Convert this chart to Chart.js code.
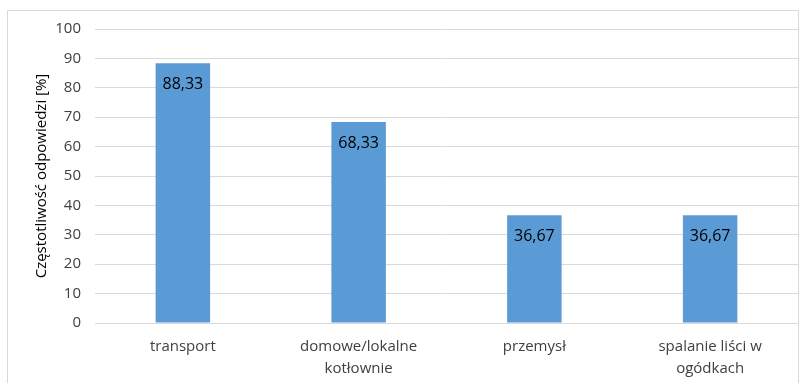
<!DOCTYPE html>
<html>
<head>
<meta charset="utf-8">
<script src="https://cdn.jsdelivr.net/npm/chart.js@4"></script>
<style>
  body { margin: 0; background: #fff; }
  #wrap { position: relative; width: 808px; height: 383px; }
  #frame { position: absolute; left: 7px; top: 10px; width: 792px; height: 380px; border: 1px solid #d9d9d9; box-sizing: border-box; }
  canvas { position: absolute; left: 0; top: 0; }
</style>
</head>
<body>
<div id="wrap">
  <div id="frame"></div>
  <canvas id="chart" width="808" height="383"></canvas>
</div>
<script>
// Dane wykresu
const categories = ["transport", ["domowe/lokalne", "kotłownie"], "przemysł", ["spalanie liści w", "ogódkach"]];
const values = [88.33, 68.33, 36.67, 36.67];
const yTicks = [0, 10, 20, 30, 40, 50, 60, 70, 80, 90, 100];
const yTitle = "Częstotliwość odpowiedzi [%]";

const fontFamily = "'Open Sans', sans-serif";

// Etykiety wartości wewnątrz słupków
const valueLabels = {
  id: "valueLabels",
  afterDatasetsDraw(chart) {
    const ctx = chart.ctx;
    const meta = chart.getDatasetMeta(0);
    ctx.save();
    ctx.font = "16px " + fontFamily;
    ctx.fillStyle = "#000";
    ctx.textAlign = "center";
    ctx.textBaseline = "middle";
    meta.data.forEach((bar, i) => {
      ctx.fillText(values[i].toFixed(2).replace(".", ","), bar.x, bar.y + 21);
    });
    ctx.restore();
  },
};

const ctx = document.getElementById("chart").getContext("2d");
const chart = new Chart(ctx, {
  type: "bar",
  data: {
    labels: categories,
    datasets: [
      {
        data: values,
        backgroundColor: "#5b9bd5",
        borderWidth: 0,
        barPercentage: 0.62,
        categoryPercentage: 0.5,
      },
    ],
  },
  options: {
    responsive: false,
    animation: false,
    layout: { padding: { top: 29, right: 10, left: 33, bottom: 0 } },
    plugins: {
      legend: { display: false },
      tooltip: { enabled: false },
    },
    scales: {
      x: {
        grid: { display: false },
        border: { display: false },
        ticks: { color: "#404040", font: { size: 15, family: fontFamily, lineHeight: 1.5 }, padding: 4, maxRotation: 0, autoSkip: false },
        afterFit: (scale) => { scale.height = 60; },
      },
      y: {
        min: 0,
        max: 100,
        afterBuildTicks: (scale) => { scale.ticks = yTicks.map((v) => ({ value: v })); },
        grid: { color: "#d9d9d9", drawTicks: false },
        border: { display: false },
        ticks: { color: "#404040", font: { size: 15, family: fontFamily }, padding: 14 },
        title: { display: true, text: yTitle, color: "#000", font: { size: 15, family: fontFamily }, padding: { top: 0, bottom: 0 } },
        afterFit: (scale) => { scale.width = 62; },
      },
    },
  },
  plugins: [valueLabels],
});
</script>
</body>
</html>
